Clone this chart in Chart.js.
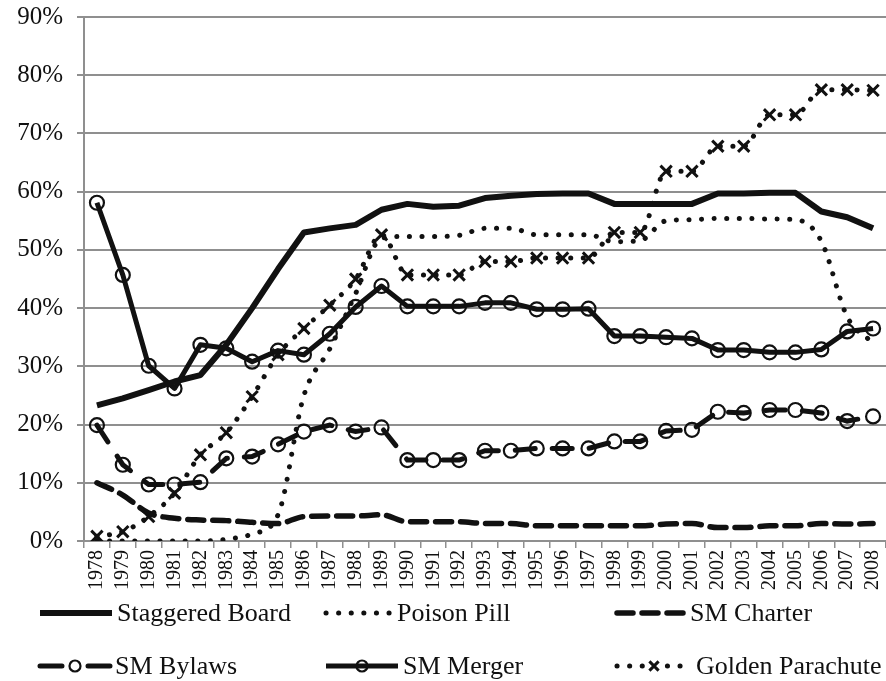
<!DOCTYPE html>
<html>
<head>
<meta charset="utf-8">
<script src="https://cdn.jsdelivr.net/npm/chart.js@4.4.1/dist/chart.umd.min.js"></script>
<style>
  html, body { margin: 0; padding: 0; background: #fff; }
  #chart { display: block; }
</style>
</head>
<body>
<canvas id="chart" width="886" height="681"></canvas>
<script>
// Anti-takeover provisions, share of firms by year

const years = [
    '1978', '1979', '1980', '1981', '1982', '1983', '1984', '1985', '1986', '1987', '1988',
    '1989', '1990', '1991', '1992', '1993', '1994', '1995', '1996', '1997', '1998', '1999',
    '2000', '2001', '2002', '2003', '2004', '2005', '2006', '2007', '2008'
];

const staggeredBoard = [23.3, 24.5, 25.9, 27.4, 28.5, 33.7, 40.0, 46.7, 53.0, 53.7, 54.3, 56.9, 57.9, 57.4, 57.6, 58.9,
    59.3, 59.6, 59.7, 59.7, 57.9, 57.9, 57.9, 57.9, 59.7, 59.7, 59.8, 59.8, 56.6, 55.6, 53.7];
const poisonPill = [0, 0, 0, 0, 0, 0.3, 1.2, 4.5, 25.0, 33.0, 42.5, 52.0, 52.3, 52.3, 52.5, 53.7,
    53.7, 52.6, 52.6, 52.6, 51.4, 51.6, 55.0, 55.2, 55.4, 55.4, 55.3, 55.2, 51.5, 38.5, 34.0];
const smCharter = [10.0, 7.9, 4.8, 3.9, 3.6, 3.5, 3.2, 3.0, 4.2, 4.3, 4.3, 4.5, 3.3, 3.3, 3.3, 3.0,
    3.0, 2.6, 2.6, 2.6, 2.6, 2.6, 2.9, 3.0, 2.3, 2.3, 2.6, 2.6, 3.0, 2.9, 3.0];
const smBylaws = [19.9, 13.1, 9.7, 9.7, 10.1, 14.2, 14.5, 16.6, 18.8, 19.9, 18.8, 19.5, 13.9, 13.9, 13.9, 15.5,
    15.5, 15.9, 15.9, 15.9, 17.1, 17.1, 18.9, 19.1, 22.2, 22.0, 22.5, 22.5, 22.0, 20.6, 21.4];
const smMerger = [58.1, 45.7, 30.1, 26.2, 33.7, 33.1, 30.8, 32.7, 32.0, 35.6, 40.2, 43.8, 40.3, 40.3, 40.3, 40.9,
    40.9, 39.8, 39.8, 39.9, 35.2, 35.2, 35.0, 34.8, 32.8, 32.8, 32.4, 32.4, 32.9, 36.0, 36.5];
const goldenParachute = [0.8, 1.6, 4.2, 8.2, 14.8, 18.6, 24.8, 32.0, 36.5, 40.5, 45.0, 52.6, 45.7, 45.7, 45.7, 48.0,
    48.0, 48.6, 48.6, 48.6, 53.0, 53.0, 63.5, 63.5, 67.8, 67.8, 73.2, 73.2, 77.5, 77.5, 77.4];

const yTicks = [0, 10, 20, 30, 40, 50, 60, 70, 80, 90];

const INK = '#111';
const GRID = '#8f8f8f';
const SERIF = '"Liberation Serif", "Times New Roman", serif';

Chart.defaults.font.family = SERIF;
Chart.defaults.color = INK;

function lineSeries(label, data, extra) {
    return Object.assign({
        label: label,
        data: data,
        borderColor: INK,
        backgroundColor: INK,
        fill: false,
        pointRadius: 0,
        pointHoverRadius: 0,
        tension: 0
    }, extra);
}

const datasets = [
    lineSeries('Staggered Board', staggeredBoard, { borderWidth: 6, borderJoinStyle: 'round' }),
    lineSeries('Poison Pill', poisonPill, {
        borderWidth: 5, borderDash: [0.1, 12.5], borderCapStyle: 'round', cubicInterpolationMode: 'monotone'
    }),
    lineSeries('SM Charter', smCharter, {
        borderWidth: 5.5, borderDash: [16, 9], borderCapStyle: 'round', cubicInterpolationMode: 'monotone'
    }),
    lineSeries('SM Bylaws', smBylaws, {
        borderWidth: 5, borderDash: [20, 17], borderCapStyle: 'round',
        pointRadius: 7, pointStyle: 'circle', pointBorderWidth: 2.2,
        pointBorderColor: INK, pointBackgroundColor: 'rgba(0,0,0,0)'
    }),
    lineSeries('SM Merger', smMerger, {
        borderWidth: 5, borderJoinStyle: 'round',
        pointRadius: 7, pointStyle: 'circle', pointBorderWidth: 2.2,
        pointBorderColor: INK, pointBackgroundColor: 'rgba(0,0,0,0)'
    }),
    lineSeries('Golden Parachute', goldenParachute, {
        borderWidth: 5, borderDash: [0.1, 12.5], borderCapStyle: 'round', cubicInterpolationMode: 'monotone',
        pointRadius: 8, pointStyle: 'crossRot', pointBorderWidth: 3, pointBorderColor: INK
    })
];

// legend is laid out in a fixed 3x2 grid under the axis
const legendSlots = [
    { x: 40, y: 613, w: 72 }, { x: 326, y: 613, w: 66 }, { x: 617, y: 613, w: 68 },
    { x: 40, y: 666, w: 70 }, { x: 326, y: 666, w: 72 }, { x: 617, y: 666, w: 74 }
];

const gridLegend = {
    id: 'gridLegend',
    afterDraw(chart) {
        const ctx = chart.ctx;
        chart.data.datasets.forEach((ds, i) => {
            const slot = legendSlots[i];
            const mid = slot.x + slot.w / 2;
            ctx.save();
            ctx.strokeStyle = ds.borderColor;
            ctx.lineWidth = ds.borderWidth;
            ctx.lineCap = ds.borderCapStyle || 'butt';
            const hasMarker = ds.pointRadius > 0;
            const dashed = ds.borderDash && ds.borderDash[0] > 1;

            if (hasMarker && dashed) {
                ctx.beginPath();
                ctx.moveTo(slot.x, slot.y);
                ctx.lineTo(mid - 13, slot.y);
                ctx.moveTo(mid + 13, slot.y);
                ctx.lineTo(slot.x + slot.w, slot.y);
                ctx.stroke();
            } else {
                ctx.setLineDash(ds.borderDash || []);
                ctx.beginPath();
                ctx.moveTo(slot.x, slot.y);
                ctx.lineTo(slot.x + slot.w, slot.y);
                ctx.stroke();
            }

            if (hasMarker) {
                ctx.setLineDash([]);
                ctx.lineCap = 'butt';
                ctx.lineWidth = ds.pointBorderWidth;
                if (ds.pointStyle === 'crossRot') {
                    const r = ds.pointRadius * 0.8;
                    ctx.fillStyle = '#fff';
                    ctx.fillRect(mid - r, slot.y - r, r * 2, r * 2);
                    const d = r * 0.72;
                    ctx.beginPath();
                    ctx.moveTo(mid - d, slot.y - d);
                    ctx.lineTo(mid + d, slot.y + d);
                    ctx.moveTo(mid + d, slot.y - d);
                    ctx.lineTo(mid - d, slot.y + d);
                    ctx.stroke();
                } else {
                    ctx.beginPath();
                    ctx.arc(mid, slot.y, 5.5, 0, Math.PI * 2);
                    if (dashed) {
                        ctx.fillStyle = '#fff';
                        ctx.fill();
                    }
                    ctx.stroke();
                }
            }

            ctx.fillStyle = INK;
            ctx.font = '26px ' + SERIF;
            ctx.textBaseline = 'middle';
            ctx.textAlign = 'left';
            ctx.fillText(ds.label, slot.x + slot.w + 5, slot.y + 1);
            ctx.restore();
        });
    }
};

const ctx = document.getElementById('chart').getContext('2d');

new Chart(ctx, {
    type: 'line',
    data: {
        labels: years,
        datasets: datasets
    },
    options: {
        responsive: false,
        animation: false,
        devicePixelRatio: 1,
        layout: { autoPadding: false, padding: { top: 17, right: 0, bottom: 90, left: 0 } },
        plugins: {
            legend: { display: false },
            tooltip: { enabled: false }
        },
        scales: {
            x: {
                offset: true,
                border: { display: true, color: GRID, width: 2 },
                grid: {
                    display: true,
                    drawOnChartArea: false,
                    drawTicks: true,
                    offset: true,
                    tickLength: 7,
                    color: GRID,
                    lineWidth: 1.5
                },
                ticks: {
                    autoSkip: false,
                    maxRotation: 90,
                    minRotation: 90,
                    padding: 2,
                    font: { size: 20 },
                    color: INK
                },
                afterFit(scale) {
                    scale.height = 50;
                    scale.paddingLeft = 0;
                    scale.paddingRight = 0;
                }
            },
            y: {
                min: 0,
                max: 90,
                afterBuildTicks(scale) { scale.ticks = yTicks.map(v => ({ value: v })); },
                border: { display: true, color: GRID, width: 2 },
                grid: { color: GRID, lineWidth: 2, tickLength: 7 },
                ticks: {
                    padding: 14,
                    font: { size: 25 },
                    color: INK,
                    callback: v => v + '%'
                },
                afterFit(scale) {
                    scale.width = 84;
                    scale.paddingTop = 0;
                    scale.paddingBottom = 0;
                }
            }
        }
    },
    plugins: [gridLegend]
});
</script>
</body>
</html>
